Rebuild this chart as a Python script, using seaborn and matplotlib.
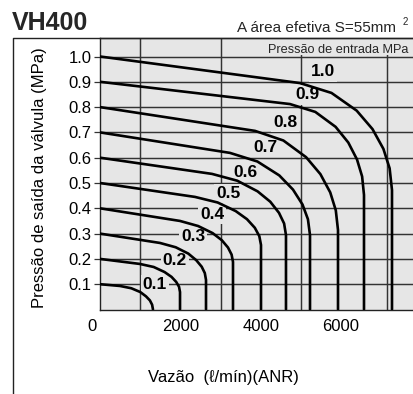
import matplotlib
matplotlib.use("Agg")
import matplotlib.pyplot as plt
from matplotlib.lines import Line2D
from matplotlib.patches import Rectangle
from matplotlib.transforms import ScaledTranslation
import pandas as pd
import seaborn as sns

sns.set_theme(style="white")
plt.rcParams["font.family"] = ["Liberation Sans", "DejaVu Sans"]

# Inlet pressure of each curve (MPa) and the label drawn next to it
inlet = [0.1, 0.2, 0.3, 0.4, 0.5, 0.6, 0.7, 0.8, 0.9, 1.0]
inlet_labels = ["0.1", "0.2", "0.3", "0.4", "0.5", "0.6", "0.7", "0.8", "0.9", "1.0"]

# Flow (l/min ANR) against outlet pressure (MPa), one pair of lists per inlet pressure
flow_01 = [0, 498, 779, 1003, 1145, 1242, 1297, 1319]
p2_01 = [0.100, 0.093, 0.084, 0.069, 0.052, 0.036, 0.019, 0.0]
flow_02 = [0, 996, 1337, 1608, 1780, 1897, 1967, 1992, 1992]
p2_02 = [0.200, 0.180, 0.168, 0.148, 0.129, 0.109, 0.090, 0.069, 0.0]
flow_03 = [0, 1494, 1884, 2198, 2395, 2532, 2609, 2639, 2639]
p2_03 = [0.300, 0.263, 0.246, 0.221, 0.195, 0.169, 0.144, 0.117, 0.0]
flow_04 = [0, 1992, 2442, 2803, 3032, 3186, 3276, 3311, 3311]
p2_04 = [0.400, 0.350, 0.330, 0.302, 0.274, 0.245, 0.217, 0.188, 0.0]
flow_05 = [0, 2365, 2928, 3378, 3659, 3854, 3966, 4008, 4008]
p2_05 = [0.500, 0.445, 0.423, 0.389, 0.357, 0.323, 0.290, 0.255, 0.0]
flow_06 = [0, 2788, 3418, 3923, 4239, 4456, 4583, 4630, 4630]
p2_06 = [0.600, 0.536, 0.509, 0.467, 0.426, 0.382, 0.340, 0.294, 0.0]
flow_07 = [0, 3236, 3918, 4463, 4804, 5041, 5176, 5228, 5228]
p2_07 = [0.700, 0.619, 0.585, 0.530, 0.474, 0.415, 0.357, 0.294, 0.0]
flow_08 = [0, 3859, 4565, 5131, 5487, 5731, 5870, 5925, 5925]
p2_08 = [0.800, 0.706, 0.668, 0.602, 0.535, 0.463, 0.392, 0.314, 0.0]
flow_09 = [0, 4730, 5360, 5865, 6181, 6398, 6525, 6572, 6572]
p2_09 = [0.900, 0.812, 0.781, 0.722, 0.660, 0.593, 0.526, 0.453, 0.0]
flow_10 = [0, 4979, 5763, 6390, 6784, 7055, 7210, 7269, 7269]
p2_10 = [1.000, 0.895, 0.856, 0.786, 0.713, 0.635, 0.558, 0.472, 0.0]

# Where each inlet-pressure label sits
label_flow = [1369, 1867, 2315, 2788, 3187, 3610, 4108, 4606, 5153, 5552]
label_p2 = [0.100, 0.192, 0.287, 0.374, 0.460, 0.540, 0.642, 0.741, 0.848, 0.939]

x_ticks = [0, 2000, 4000, 6000]
x_tick_labels = ["0", "2000", "4000", "6000"]
x_grid = [1000, 2000, 3000, 4000, 5000, 6000, 7150]
y_ticks = [0.1, 0.2, 0.3, 0.4, 0.5, 0.6, 0.7, 0.8, 0.9, 1.0]
y_tick_labels = ["0.1", "0.2", "0.3", "0.4", "0.5", "0.6", "0.7", "0.8", "0.9", "1.0"]

flows = [flow_01, flow_02, flow_03, flow_04, flow_05, flow_06, flow_07, flow_08, flow_09, flow_10]
p2s = [p2_01, p2_02, p2_03, p2_04, p2_05, p2_06, p2_07, p2_08, p2_09, p2_10]
frames = []
for p1, f, p in zip(inlet, flows, p2s):
    frames.append(pd.DataFrame({"inlet": p1, "flow": f, "p2": p}))
df = pd.concat(frames, ignore_index=True)

BG = "#e6e6e6"
GRID = "#333333"
W, H = 413, 394

fig = plt.figure(figsize=(W / 100, H / 100), dpi=100)
fig.patch.set_facecolor("white")
ax = fig.add_axes([100 / W, 84.5 / H, 313 / W, 272 / H])
ax.set_facecolor(BG)

sns.lineplot(data=df, x="flow", y="p2", units="inlet", estimator=None, sort=False,
             color="black", linewidth=1.9, ax=ax, zorder=3)
for line in ax.get_lines():
    line.set_solid_joinstyle("round")

ax.set_xlim(0, 7792)
ax.set_ylim(0, 1.0751)

ax.set_xticks(x_ticks)
ax.set_xticklabels(x_tick_labels, fontsize=12)
ax.set_xticks(x_grid, minor=True)
ax.set_yticks(y_ticks)
ax.set_yticklabels(y_tick_labels, fontsize=12)
ax.tick_params(axis="x", which="both", length=0, pad=7, colors="black")
ax.tick_params(axis="y", which="major", length=4, width=0.9, pad=2, direction="out",
               color=GRID, left=True, labelcolor="black")

ax.set_axisbelow(True)
ax.grid(False)
ax.grid(True, axis="x", which="minor", color=GRID, linewidth=1.05)
ax.grid(True, axis="y", which="major", color=GRID, linewidth=1.05)

for side in ("left", "bottom", "top"):
    ax.spines[side].set_visible(True)
    ax.spines[side].set_color("#222222")
    ax.spines[side].set_linewidth(1.0)
ax.spines["right"].set_visible(False)

# shift the "0" flow label to the left of the corner
zero_label = ax.get_xticklabels()[0]
zero_label.set_transform(zero_label.get_transform() + ScaledTranslation(-8 / 100, 0, fig.dpi_scale_trans))

# panel behind the legend caption hides the grid there
ax.add_patch(Rectangle((4030, 1.004), 4000, 0.2, facecolor=BG, edgecolor="none", zorder=1.2))

for fx, py, txt in zip(label_flow, label_p2, inlet_labels):
    ax.text(fx, py, txt, ha="center", va="center", fontsize=12.5, fontweight="bold",
            color="black", zorder=2,
            bbox=dict(boxstyle="square,pad=0.12", facecolor=BG, edgecolor="none"))

ax.set_xlabel("Vazão  (ℓ/mín)(ANR)", fontsize=12, color="black")
ax.xaxis.set_label_coords(0.3946, -0.2518)
ax.xaxis.label.set_va("center")
ax.set_ylabel("Pressão de saída da válvula (MPa)", fontsize=12, color="black")
ax.yaxis.set_label_coords(-0.192, 0.485)
ax.yaxis.label.set_va("center")

fig.text(12 / W, 1 - 30.5 / H, "VH400", fontsize=18, fontweight="bold", ha="left", va="baseline")
fig.text(237 / W, 1 - 32.5 / H, "A área efetiva S=55mm", fontsize=11, ha="left", va="baseline")
fig.text(403 / W, 1 - 25 / H, "2", fontsize=7, ha="left", va="baseline")
fig.text(268 / W, 1 - 53.3 / H, "Pressão de entrada MPa", fontsize=9.2, ha="left", va="baseline")

# open frame around the chart
fig.add_artist(Line2D([12.5 / W, 12.5 / W, 1.0], [0.0, 1 - 37.5 / H, 1 - 37.5 / H],
                      transform=fig.transFigure, color="#222222", linewidth=1.0))

fig.savefig("out.png", dpi=100)
